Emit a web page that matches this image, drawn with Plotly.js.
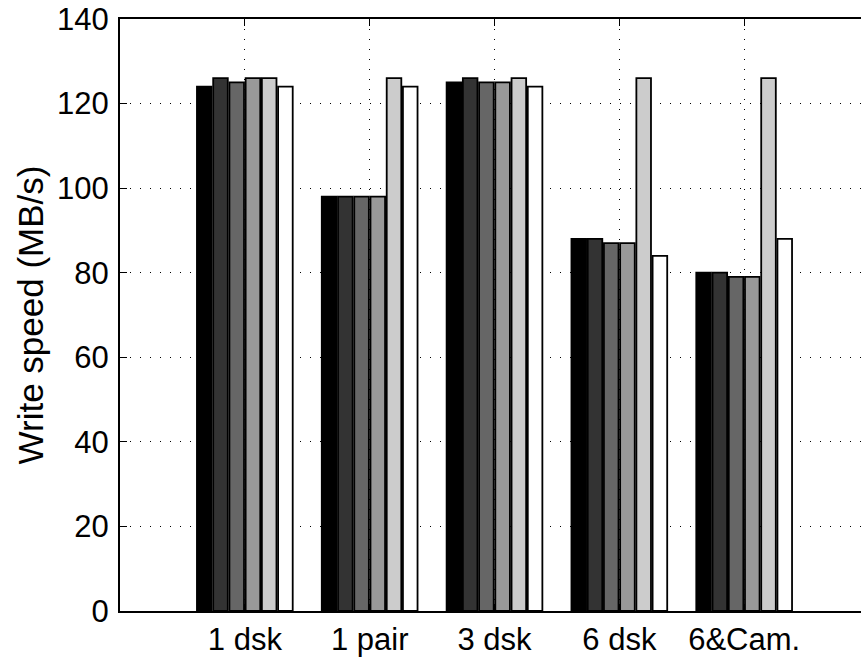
<!DOCTYPE html>
<html>
<head>
<meta charset="utf-8">
<script src="https://cdn.plot.ly/plotly-3.0.1.min.js"></script>
<style>
  html, body { margin: 0; padding: 0; overflow: hidden; background: #fff; }
  #chart { width: 870px; height: 657px; }
</style>
</head>
<body>
<div id="chart"></div>
<script>
// Categories (x tick labels)
const categories = ["1 dsk", "1 pair", "3 dsk", "6 dsk", "6&Cam."];

// Series values (MB/s), six bars per group
const series1 = [124, 98, 125, 88, 80];
const series2 = [126, 98, 126, 88, 80];
const series3 = [125, 98, 125, 87, 79];
const series4 = [126, 98, 125, 87, 79];
const series5 = [126, 126, 126, 126, 126];
const series6 = [124, 124, 124, 84, 88];

const seriesList = [series1, series2, series3, series4, series5, series6];
const seriesColors = ["#000000", "#333333", "#666666", "#999999", "#cccccc", "#ffffff"];

const yTicks = [0, 20, 40, 60, 80, 100, 120, 140];

const traces = seriesList.map((vals, i) => ({
  type: "bar",
  x: categories,
  y: vals,
  marker: { color: seriesColors[i], line: { color: "#000000", width: 1.8 } },
  hoverinfo: "skip"
}));

const fontFam = "Liberation Sans, Arial, Helvetica, sans-serif";

const layout = {
  width: 870,
  height: 657,
  margin: { l: 120, r: 1, t: 19, b: 46, pad: 0 },
  paper_bgcolor: "#ffffff",
  plot_bgcolor: "#ffffff",
  showlegend: false,
  barmode: "group",
  bargap: 0.22,
  bargroupgap: 0.1,
  font: { family: fontFam, color: "#000000", size: 31 },
  xaxis: {
    type: "category",
    range: [-1, 5],
    showline: true,
    linecolor: "#000000",
    linewidth: 2,
    mirror: "allticks",
    ticks: "inside",
    ticklen: 7,
    tickwidth: 1,
    tickcolor: "#000000",
    showgrid: true,
    gridcolor: "#000000",
    gridwidth: 1,
    griddash: "1px,9px",
    tickfont: { family: fontFam, size: 31, color: "#000000" },
    fixedrange: true
  },
  yaxis: {
    range: [0, 140],
    tickvals: yTicks,
    ticktext: yTicks.map(String),
    showline: true,
    linecolor: "#000000",
    linewidth: 2,
    mirror: "allticks",
    ticks: "inside",
    ticklen: 7,
    tickwidth: 1,
    tickcolor: "#000000",
    showgrid: true,
    gridcolor: "#000000",
    gridwidth: 1,
    griddash: "1px,9px",
    zeroline: false,
    ticklabelstandoff: 3,
    tickfont: { family: fontFam, size: 31, color: "#000000" },
    title: { text: "Write speed (MB/s)", font: { family: fontFam, size: 35, color: "#000000" }, standoff: 3 },
    fixedrange: true
  }
};

Plotly.newPlot("chart", traces, layout, { staticPlot: true, displayModeBar: false });
</script>
</body>
</html>
